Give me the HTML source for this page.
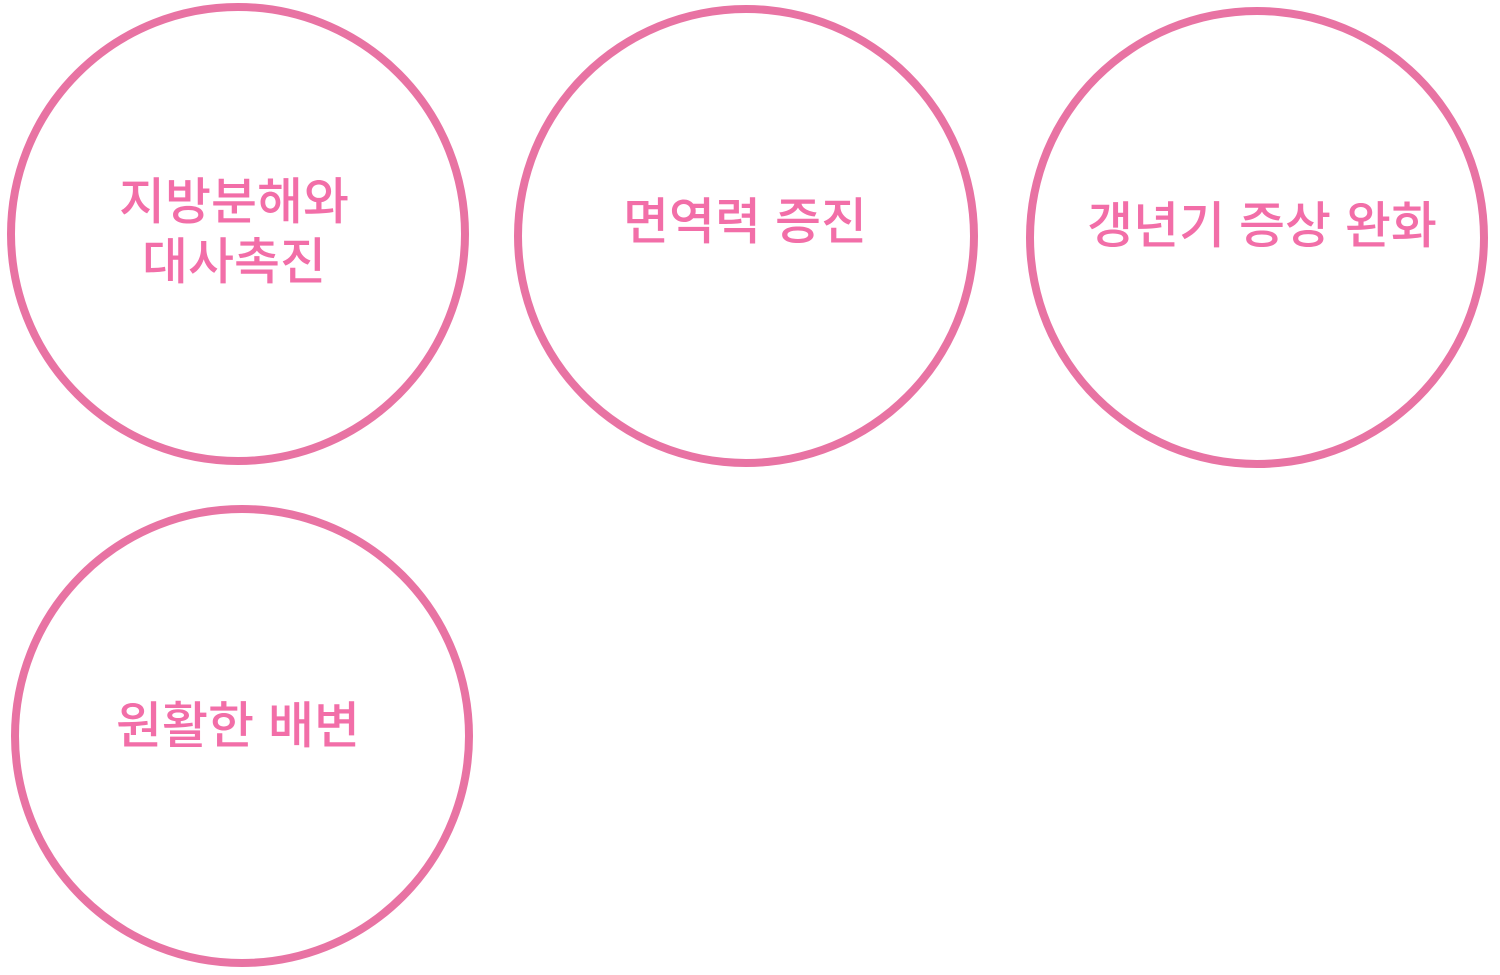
<!DOCTYPE html>
<html><head><meta charset="utf-8"><style>
body{margin:0;width:1500px;height:975px;background:#fff;overflow:hidden;position:relative;font-family:"Liberation Sans","Noto Sans CJK KR",sans-serif}
.c{position:absolute;border:8px solid #e873a3;border-radius:50%;box-sizing:border-box}
.t{position:absolute;color:#f26ea8;font-size:50px;font-weight:500;text-align:center;line-height:60px;transform:translate(-50%,-50%);white-space:nowrap;letter-spacing:0}
</style></head><body>
<div class="c" style="left:7px;top:3px;width:462px;height:462px"></div>
<div class="c" style="left:514px;top:5px;width:464px;height:462px"></div>
<div class="c" style="left:1026px;top:7px;width:462px;height:461px"></div>
<div class="c" style="left:11px;top:505px;width:462px;height:462px"></div>
<div class="t" style="left:234px;top:232px">지방분해와<br>대사촉진</div>
<div class="t" style="left:745px;top:222px">면역력 증진</div>
<div class="t" style="left:1262px;top:226px">갱년기 증상 완화</div>
<div class="t" style="left:238px;top:726px">원활한 배변</div>
</body></html>
